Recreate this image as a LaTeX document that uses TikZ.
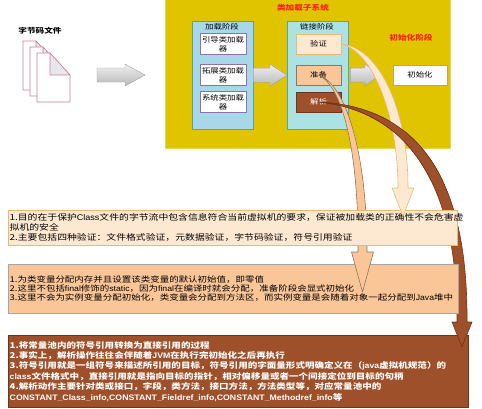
\documentclass[tikz,border=0pt]{standalone}
\usepackage{fontspec}
\setmainfont{Noto Sans CJK SC}[FakeStretch=1.2]
\newfontfamily\lat{Liberation Sans}[FakeStretch=1.1]
\usepackage{xcolor}
\usetikzlibrary{calc}
\usetikzlibrary{positioning}

\definecolor{sysyellow}{RGB}{224,196,0}
\definecolor{stageblue}{RGB}{168,216,232}
\definecolor{stagecyan}{RGB}{172,226,228}
\definecolor{stageedge}{RGB}{78,164,176}
\definecolor{loaderedge}{RGB}{140,112,176}
\definecolor{yzfill}{RGB}{253,233,210}
\definecolor{yzedge}{RGB}{236,184,112}
\definecolor{zbfill}{RGB}{250,198,152}
\definecolor{zbedge}{RGB}{140,118,96}
\definecolor{jxfill}{RGB}{158,80,42}
\definecolor{jxedge}{RGB}{112,52,22}
\definecolor{titlered}{RGB}{250,32,32}
\definecolor{pageedge}{RGB}{200,128,152}
\definecolor{foldgray}{RGB}{232,232,236}
\definecolor{initedge}{RGB}{200,160,100}

\begin{document}
\begin{tikzpicture}[x=1pt,y=-1pt,
	smalltext/.style={font=\fontsize{7}{9}\selectfont},
	loaderbox/.style={draw=loaderedge,fill=white,minimum width=46,minimum height=21,inner sep=0,align=center,smalltext},
	linkbox/.style={minimum width=45,minimum height=20,inner sep=0,smalltext},
	stagebox/.style={draw=stageedge,minimum width=61,minimum height=108,inner sep=0,anchor=north west},
	grayarrow/.style={draw=gray!75,top color=gray!12,bottom color=gray!55},
	descbox/.style={anchor=north west,inner xsep=1.5,inner ysep=0,align=left},
	page/.style={draw=pageedge,fill=white,line width=0.6},
	ribbon/.style={line width=0.6,line join=round}]
	\useasboundingbox (0,0) rectangle (482,408);
	
	% class loader subsystem
	\node[fill=sysyellow,draw=sysyellow!70!white,minimum width=285,minimum height=150,inner sep=0,anchor=north west] (sys) at (165,-2) {};
	\node[text=titlered,font=\bfseries\fontsize{7.2}{8}\selectfont] (systitle) at (303,8) {类加载子系统};
	
	% bytecode files
	\node[font=\bfseries\fontsize{7.2}{8}\selectfont] (file) at (40,31) {字节码文件};
	\foreach \i in {0,1,2}{
		\begin{scope}[shift={(7*\i,6*\i)}]
			\draw[page] (23,41) -- (36,41) -- (56,63) -- (56,90) -- (23,90) -- cycle;
			\draw[page,fill=foldgray] (36,41) -- (36,63) -- (56,63) -- cycle;
		\end{scope}
	}
	
	% loading stage
	\node[stagebox,fill=stageblue] (jz) at (192,21) {};
	\node[smalltext] (jztitle) at (222,27) {加载阶段};
	\node[loaderbox] (bootloader) at (223,44) {引导类加载\\器};
	\node[loaderbox] (extloader) at (223,75) {拓展类加载\\器};
	\node[loaderbox] (sysloader) at (223,102) {系统类加载\\器};
	
	% linking stage
	\node[stagebox,fill=stagecyan] (lj) at (287,21) {};
	\node[smalltext] (ljtitle) at (317,27) {链接阶段};
	\node[linkbox,fill=yzfill,draw=yzedge] (yz) at (318.5,44) {验证};
	\node[linkbox,fill=zbfill,draw=zbedge] (zb) at (318.5,75) {准备};
	\node[linkbox,fill=jxfill,draw=jxedge,text=white] (jx) at (318.5,102) {解析};
	
	% initialization stage
	\node[text=titlered,font=\bfseries\fontsize{7.2}{8}\selectfont] (chtitle) at (411,38) {初始化阶段};
	\node[draw=initedge,fill=white,minimum width=54,minimum height=20,inner sep=0,smalltext] (chsh) at (420,75) {初始化};
	
	% gray block arrows
	\coordinate (fa) at (97,75);
	\coordinate (fb) at (145,75);
	\coordinate (ca) at ($(lj.east)+(2,0)$);
	\coordinate (cb) at ($(chsh.west)+(-13,0)$);
	\path[grayarrow] ($(fa)+(0,-7)$) -- ($(fb)+(-20,-7)$) -- ($(fb)+(-20,-11)$) -- (fb) -- ($(fb)+(-20,11)$) -- ($(fb)+(-20,7)$) -- ($(fa)+(0,7)$) -- cycle;
	\path[grayarrow] ($(jz.east)+(0,-7)$) -- ($(lj.west)+(-17,-7)$) -- ($(lj.west)+(-17,-11)$) -- (lj.west) -- ($(lj.west)+(-17,11)$) -- ($(lj.west)+(-17,7)$) -- ($(jz.east)+(0,7)$) -- cycle;
	\path[grayarrow] ($(ca)+(0,-7)$) -- ($(cb)+(-15,-7)$) -- ($(cb)+(-15,-11)$) -- (cb) -- ($(cb)+(-15,11)$) -- ($(cb)+(-15,7)$) -- ($(ca)+(0,7)$) -- cycle;
	
	% resolution notes
	\node[descbox,fill=jxfill,draw=jxedge,text=white,text width=457,minimum height=72,font=\bfseries\fontsize{7.95}{10.4}\selectfont] (jxtxt) at (8,335) {1.将常量池内的符号引用转换为直接引用的过程\\
		2.事实上，解析操作往往会伴随着{\lat JVM}在执行完初始化之后再执行\\
		3.符号引用就是一组符号来描述所引用的目标，符号引用的字面量形式明确定义在（{\lat java}虚拟机规范）的\\
		{\lat class}文件格式中，直接引用就是指向目标的指针，相对偏移量或者一个间接定位到目标的句柄\\
		4.解析动作主要针对类或接口，字段，类方法，接口方法，方法类型等，对应常量池中的\\
		{\lat CONSTANT\_Class\_info,CONSTANT\_Fieldref\_info,CONSTANT\_Methodref\_info}等};
	\path[ribbon,fill=jxfill,draw=jxedge,save path=\jxpath] (jx.center) .. controls (420,107) and (468,180) .. (467,322) -- (472,322) -- (462,347) -- (452,322) -- (457,322) .. controls (458,200) and (418,112) .. (jx.center) -- cycle;
	
	% preparation notes
	\node[descbox,fill=zbfill,draw=gray!70,text width=447,minimum height=49,font=\fontsize{7.9}{8.7}\selectfont] (zbtxt) at (8,264) {1.为类变量分配内存并且设置该类变量的默认初始值，即零值\\
		2.这里不包括{\lat final}修饰的{\lat static}，因为{\lat final}在编译时就会分配，准备阶段会显式初始化\\
		3.这里不会为实例变量分配初始化，类变量会分配到方法区，而实例变量是会随着对象一起分配到{\lat Java}堆中};
	\path[ribbon,fill=zbfill,draw=zbedge] (zb.center) .. controls (345,84) and (367,150) .. (367,252) -- (373.5,252) -- (362.5,292) -- (351.5,252) -- (358,252) .. controls (359,165) and (346,88) .. (zb.center) -- cycle;
	
	% verification notes
	\node[descbox,fill=yzfill,draw=yzedge,text width=446,minimum height=35,font=\fontsize{8.2}{9.8}\selectfont] (yztxt) at (8,210) {1.目的在于保护{\lat Class}文件的字节流中包含信息符合当前虚拟机的要求，保证被加载类的正确性不会危害虚\\
		拟机的安全\\
		2.主要包括四种验证：文件格式验证，元数据验证，字节码验证，符号引用验证};
	\path[ribbon,fill=yzfill,draw=yzedge] (yz.east) .. controls (380,48) and (408,110) .. (408,188) -- (414,188) -- (403,216) -- (392,188) -- (398,188) .. controls (398,120) and (375,52) .. (yz.east) -- cycle;
	
	% resolution ribbon over the others
	\begin{scope}
		\clip (300,90) rectangle (482,180);
		\path[ribbon,fill=jxfill,draw=jxedge,use path=\jxpath];
	\end{scope}
\end{tikzpicture}
\end{document}
